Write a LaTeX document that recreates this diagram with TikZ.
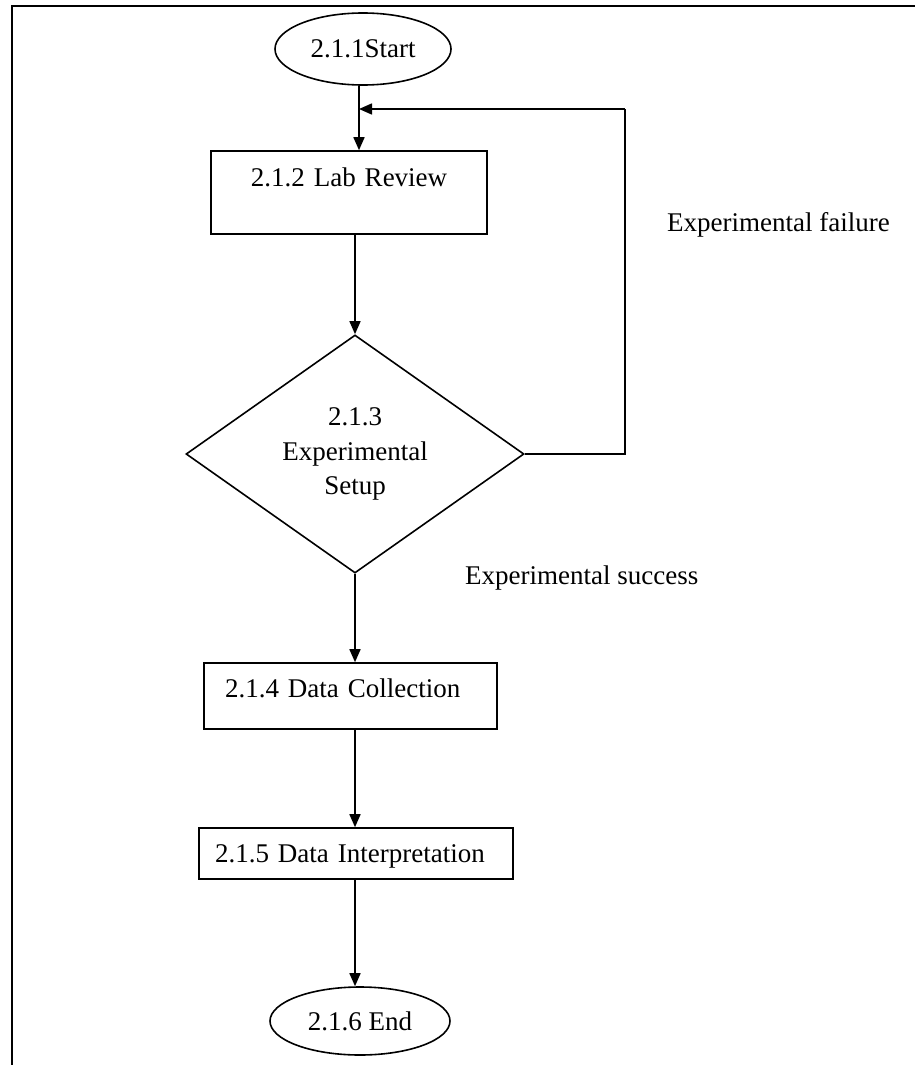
\documentclass[tikz,border=0pt]{standalone}
\usepackage{fontspec}
\setmainfont{Liberation Serif}
\usetikzlibrary{shapes.geometric,arrows.meta}
\begin{document}
\begin{tikzpicture}[x=1pt,y=-1pt,
  every node/.style={font=\fontsize{27}{34.5}\selectfont},
  shp/.style={draw=black,line width=1.6pt},
  oval/.style={shp,ellipse,inner sep=0pt},
  boxc/.style={shp,rectangle,inner xsep=0pt,inner ysep=0pt},
  dec/.style={shp,diamond,inner sep=0pt,align=center},
  arr/.style={line width=1.6pt,-{Triangle[length=13pt,width=11pt]}},
  ln/.style={line width=1.6pt},
  lbl/.style={anchor=west,inner sep=0pt}]
\useasboundingbox (0,0) rectangle (914,1065);
\fill[white] (0,0) rectangle (914,1065);
\draw[line width=2.5pt] (12,1066) -- (12,6) -- (915,6);

\node[oval,minimum width=176pt,minimum height=72pt] (start) at (363,49) {2.1.1Start};
\node[boxc,minimum width=276pt,text height=35pt,text depth=48pt,align=center,text width=276pt] (lab) at (349,192.5) {2.1.2 Lab Review};
\node[dec,minimum width=338pt,minimum height=216pt] (dia) at (355,454) {2.1.3\\Experimental\\Setup};
\node[boxc,minimum width=293pt,text height=34pt,text depth=32pt,inner xsep=21pt,text width=251pt,align=left] (dc) at (350.5,696) {2.1.4 Data Collection};
\node[boxc,minimum width=314pt,text height=34pt,text depth=17pt,inner xsep=16pt,text width=282pt,align=left] (di) at (356,853.5) {2.1.5 Data Interpretation};
\node[oval,minimum width=180pt,minimum height=68pt] (end) at (360,1021) {2.1.6 End};

\node[lbl] (fail) at (667,225) {Experimental failure};
\node[lbl] (succ) at (465,578) {Experimental success};

\coordinate (loopc) at (625,109);

\draw[arr] (start.south -| dia.north) ++(4,0) coordinate (s1) -- (s1 |- lab.north);
\draw[ln] (dia.east) -| (loopc);
\draw[arr] (loopc) -- (loopc -| s1);
\draw[arr] (dia.north |- lab.south) -- (dia.north);
\draw[arr] (dia.south) -- (dia.south |- dc.north);
\draw[arr] (dia.south |- dc.south) -- (dia.south |- di.north);
\draw[arr] (dia.south |- di.south) -- (dia.south |- end.north);
\end{tikzpicture}
\end{document}
